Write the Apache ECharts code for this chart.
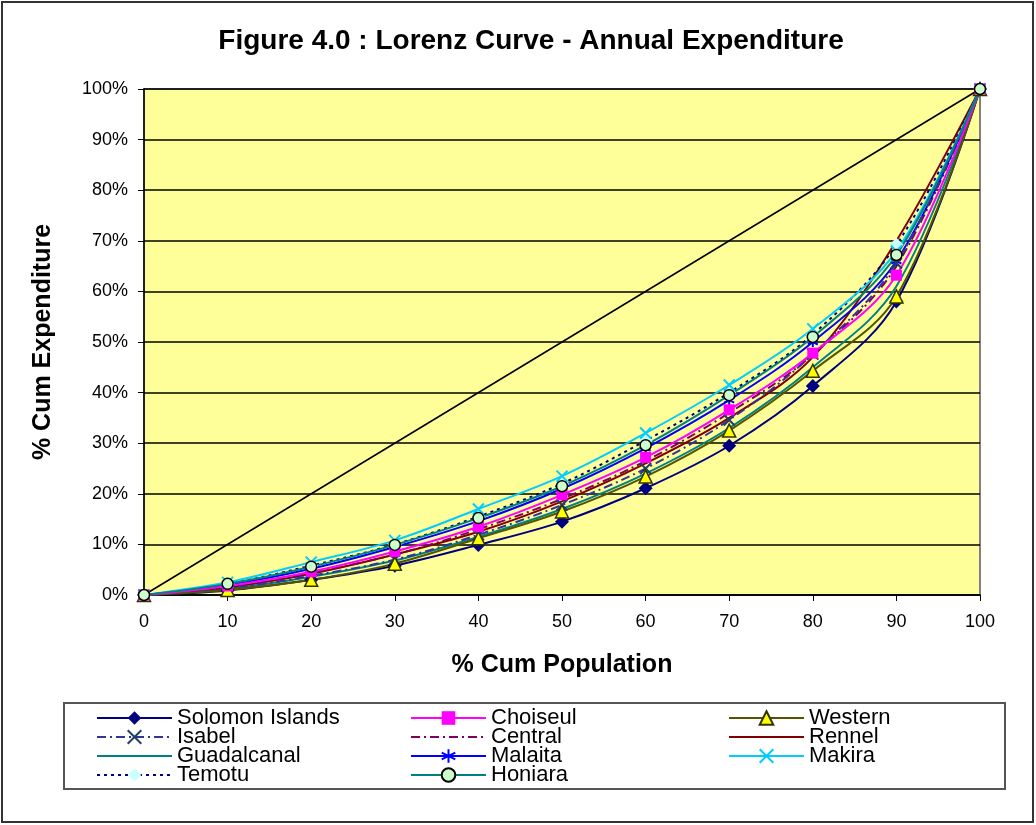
<!DOCTYPE html>
<html>
<head>
<meta charset="utf-8">
<script src="https://cdn.jsdelivr.net/npm/echarts@6/dist/echarts.min.js"></script>
<style>
  html, body { margin: 0; padding: 0; background: #fff; }
  #chart { width: 1036px; height: 825px; }
</style>
</head>
<body>
<div id="chart"></div>
<script>
// cumulative population (%)
const popPct = [0, 10, 20, 30, 40, 50, 60, 70, 80, 90, 100];

// cumulative expenditure (%) per province
const solomonIslands = [0, 0.9, 3.0, 5.8, 9.9, 14.5, 21.1, 29.5, 41.3, 58.0, 100];
const choiseul       = [0, 1.8, 4.6, 8.6, 13.5, 19.8, 27.2, 36.6, 47.8, 63.2, 100];
const western        = [0, 1.0, 3.0, 6.2, 11.2, 16.5, 23.4, 32.5, 44.3, 59.0, 100];
const isabel         = [0, 1.3, 3.8, 7.0, 11.9, 17.8, 25.0, 34.6, 47.6, 65.6, 100];
const central        = [0, 1.6, 4.4, 8.0, 13.0, 19.0, 26.5, 36.0, 47.5, 65.0, 100];
const rennel         = [0, 1.5, 4.2, 8.0, 12.5, 18.5, 26.0, 35.0, 47.0, 70.0, 100];
const guadalcanal    = [0, 1.2, 3.6, 6.8, 11.5, 17.0, 24.0, 33.0, 45.0, 61.0, 100];
const malaita        = [0, 2.0, 5.2, 9.5, 14.6, 21.0, 29.0, 38.5, 50.0, 66.0, 100];
const makira         = [0, 2.5, 6.5, 10.8, 17.0, 23.5, 32.0, 41.5, 52.6, 68.0, 100];
const temotu         = [0, 2.2, 5.8, 10.0, 15.5, 22.0, 30.5, 40.0, 51.5, 69.2, 100];
const honiara        = [0, 2.2, 5.6, 9.9, 15.2, 21.5, 29.6, 39.5, 51.0, 67.2, 100];

// line of equality
const equality = [[0, 0], [100, 100]];

const xTicks = [0, 10, 20, 30, 40, 50, 60, 70, 80, 90, 100];

// legend layout: 3 columns x 4 rows
const legendCols = [
  ['Solomon Islands', 'Isabel', 'Guadalcanal', 'Temotu'],
  ['Choiseul', 'Central', 'Malaita', 'Honiara'],
  ['Western', 'Rennel', 'Makira']
];

const chart = echarts.init(document.getElementById('chart'));

const X_MARK = 'path://M0,0L10,10M10,0L0,10';
const STAR_MARK = 'path://M5,0L5,10M0,2.5L10,7.5M0,7.5L10,2.5';
const DASH_DOT = [9, 4, 2, 4];
const FONT = 'Liberation Sans, Arial';
const CLEAR = 'rgba(0,0,0,0)';

function pts(vals) {
  return vals.map(function (v, i) { return [popPct[i], v]; });
}

function mkSeries(name, vals, color, lineType, symbol, size, itemStyle) {
  return {
    name: name,
    type: 'line',
    data: pts(vals),
    smooth: 0.35,
    symbol: symbol || 'circle',
    symbolSize: size || 10,
    showSymbol: !!symbol,
    lineStyle: { color: color, width: 2, type: lineType || 'solid' },
    itemStyle: itemStyle || { color: CLEAR, borderWidth: 0 },
    emphasis: { disabled: true },
    z: 3
  };
}

const series = [
  {
    name: 'equality',
    type: 'line',
    data: equality,
    symbol: 'none',
    lineStyle: { color: '#000', width: 1.5 },
    emphasis: { disabled: true },
    z: 2
  },
  mkSeries('Guadalcanal', guadalcanal, '#008080'),
  mkSeries('Rennel', rennel, '#800000'),
  mkSeries('Central', central, '#800060', DASH_DOT),
  mkSeries('Malaita', malaita, '#0000ff', 'solid', STAR_MARK, 10,
    { color: 'none', borderColor: '#0000ff', borderWidth: 2 }),
  mkSeries('Isabel', isabel, '#333399', DASH_DOT, X_MARK, 11,
    { color: 'none', borderColor: '#1f3f66', borderWidth: 2 }),
  mkSeries('Temotu', temotu, '#000080', [3, 4], 'diamond', 14,
    { color: '#ccffff' }),
  mkSeries('Makira', makira, '#00ccff', 'solid', X_MARK, 11,
    { color: 'none', borderColor: '#00ccff', borderWidth: 2 }),
  mkSeries('Solomon Islands', solomonIslands, '#000080', 'solid', 'diamond', 14,
    { color: '#000080' }),
  mkSeries('Western', western, '#555500', 'solid', 'triangle', 13,
    { color: '#ffff00', borderColor: '#333300', borderWidth: 1.5 }),
  mkSeries('Choiseul', choiseul, '#ff00ff', 'solid', 'rect', 11,
    { color: '#ff00ff' }),
  mkSeries('Honiara', honiara, '#008080', 'solid', 'circle', 11,
    { color: '#ccffcc', borderColor: '#000', borderWidth: 1.5 })
];

const colLeft = [96, 410, 728];
const legends = [];
legendCols.forEach(function (names, c) {
  names.forEach(function (name, r) {
    legends.push({
      orient: 'horizontal',
      left: colLeft[c],
      top: 707 + r * 19,
      padding: 0,
      itemWidth: 75,
      itemHeight: 17,
      selectedMode: false,
      data: [name],
      textStyle: { fontFamily: FONT, fontSize: 22, color: '#000' }
    });
  });
});

chart.setOption({
  animation: false,
  backgroundColor: '#fff',
  title: {
    text: 'Figure 4.0 : Lorenz Curve - Annual Expenditure',
    left: 526,
    top: 22,
    textAlign: 'center',
    textStyle: { fontFamily: FONT, fontSize: 28, fontWeight: 'bold', color: '#000' }
  },
  legend: legends,
  grid: {
    left: 144, right: 56, top: 89, bottom: 230,
    show: true,
    backgroundColor: '#ffff99',
    borderColor: '#808080',
    borderWidth: 2
  },
  xAxis: {
    type: 'value',
    min: 0, max: 100, interval: 10,
    name: '% Cum Population',
    nameLocation: 'middle',
    nameGap: 58,
    nameTextStyle: { fontFamily: FONT, fontSize: 25, fontWeight: 'bold', color: '#000' },
    axisLine: { show: true, lineStyle: { color: '#000', width: 1.5 } },
    axisTick: { show: true, length: 6, lineStyle: { color: '#000' } },
    axisLabel: {
      margin: 18,
      fontFamily: FONT, fontSize: 18, color: '#000',
      customValues: xTicks
    },
    splitLine: { show: false }
  },
  yAxis: {
    type: 'value',
    min: 0, max: 100, interval: 10,
    name: '% Cum Expenditure',
    nameLocation: 'middle',
    nameGap: 88,
    nameTextStyle: { fontFamily: FONT, fontSize: 25, fontWeight: 'bold', color: '#000' },
    axisLine: { show: true, lineStyle: { color: '#000', width: 1.5 } },
    axisTick: { show: true, length: 6, lineStyle: { color: '#000' } },
    axisLabel: {
      margin: 16,
      fontFamily: FONT, fontSize: 18, color: '#000',
      formatter: '{value}%'
    },
    splitLine: { show: true, lineStyle: { color: '#000', width: 1.5 } }
  },
  graphic: [
    {
      type: 'rect',
      shape: { x: 2, y: 2, width: 1031, height: 820 },
      style: { fill: 'none', stroke: '#333', lineWidth: 2 },
      silent: true
    },
    {
      type: 'rect',
      shape: { x: 64, y: 703, width: 941, height: 86 },
      style: { fill: 'none', stroke: '#555', lineWidth: 2 },
      silent: true
    }
  ],
  series: series
});
</script>
</body>
</html>
